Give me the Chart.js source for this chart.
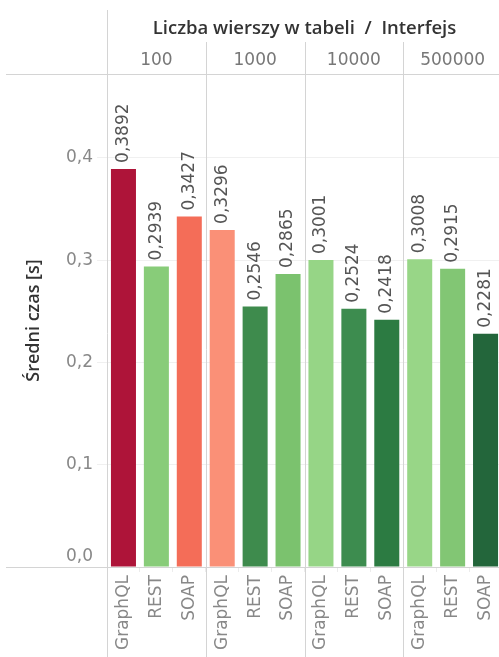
<!DOCTYPE html>
<html>
<head>
<meta charset="utf-8">
<script src="https://cdn.jsdelivr.net/npm/chart.js@4.4.1/dist/chart.umd.min.js"></script>
<style>
  html, body { margin: 0; padding: 0; background: #fff; overflow: hidden; }
  canvas { display: block; }
</style>
</head>
<body>
<canvas id="czasy" width="502" height="657"></canvas>
<script>
// liczba wierszy w tabeli (grupy) i interfejsy w każdej grupie
var rowCounts = ['100', '1000', '10000', '500000'];
var interfaces = ['GraphQL', 'REST', 'SOAP'];
// średni czas [s] - kolejno GraphQL, REST, SOAP dla każdej grupy
var avgTime = [0.3892, 0.2939, 0.3427, 0.3296, 0.2546, 0.2865, 0.3001, 0.2524, 0.2418, 0.3008, 0.2915, 0.2281];
var barColors = ['#ae1439', '#88cc79', '#f46d58', '#fa9077', '#3e8b4d', '#7bc26e',
                 '#96d586', '#3d8c4f', '#2c7b42', '#98d687', '#82c674', '#23663b'];
var yTicks = [0, 0.1, 0.2, 0.3, 0.4];

var labelset = [];
for (var g = 0; g < rowCounts.length; g++) {
  for (var i = 0; i < interfaces.length; i++) labelset.push(interfaces[i]);
}

function fmt(v, d) { return v.toFixed(d).replace('.', ','); }

var LINE = '#d4d4d4';

// naglowek z liczbą wierszy + linie siatki tabeli
var headerPlugin = {
  id: 'naglowek',
  afterDraw: function(chart) {
    var ctx = chart.ctx, area = chart.chartArea, x = chart.scales.x;
    var H = chart.height;
    var step = x.getPixelForValue(1) - x.getPixelForValue(0);
    ctx.save();
    ctx.strokeStyle = LINE;
    ctx.lineWidth = 1;
    ctx.beginPath();
    var top = Math.round(area.top) + 0.5, bottom = Math.round(area.bottom) + 0.5;
    ctx.moveTo(6, top); ctx.lineTo(chart.width, top);
    ctx.moveTo(6, bottom); ctx.lineTo(chart.width, bottom);
    var left = Math.round(area.left) + 0.5;
    ctx.moveTo(left, 10); ctx.lineTo(left, H);
    for (var g = 1; g < rowCounts.length; g++) {
      var bx = Math.round(x.getPixelForValue(g * 3) - step / 2) + 0.5;
      ctx.moveTo(bx, 42); ctx.lineTo(bx, H);
    }
    ctx.stroke();

    ctx.textAlign = 'center';
    ctx.textBaseline = 'alphabetic';
    ctx.fillStyle = '#333';
    ctx.font = '600 18.5px "Open Sans"';
    ctx.fillText('Liczba wierszy w tabeli  /  Interfejs', (area.left + area.right) / 2, 34);
    ctx.fillStyle = '#777';
    ctx.font = '17px "DejaVu Sans"';
    for (var k = 0; k < rowCounts.length; k++) {
      ctx.fillText(rowCounts[k], x.getPixelForValue(k * 3 + 1), 65);
    }
    ctx.restore();
  }
};

// wartości nad słupkami, obrócone pionowo
var valuePlugin = {
  id: 'wartosci',
  afterDatasetsDraw: function(chart) {
    var ctx = chart.ctx;
    var meta = chart.getDatasetMeta(0);
    ctx.save();
    ctx.font = '17px "DejaVu Sans"';
    ctx.fillStyle = '#555';
    ctx.textAlign = 'left';
    ctx.textBaseline = 'middle';
    meta.data.forEach(function(bar, i) {
      ctx.save();
      ctx.translate(bar.x, bar.y - 6);
      ctx.rotate(-Math.PI / 2);
      ctx.fillText(fmt(avgTime[i], 4), 0, 0);
      ctx.restore();
    });
    ctx.restore();
  }
};

var ctx = document.getElementById('czasy').getContext('2d');
new Chart(ctx, {
  type: 'bar',
  data: {
    labels: labelset,
    datasets: [{
      data: avgTime,
      backgroundColor: barColors,
      borderWidth: 0,
      barPercentage: 0.76,
      categoryPercentage: 1.0
    }]
  },
  options: {
    responsive: false,
    animation: false,
    layout: { padding: { top: 74, left: 0, right: 0, bottom: 0 } },
    plugins: {
      legend: { display: false },
      tooltip: { enabled: false }
    },
    scales: {
      x: {
        offset: true,
        grid: { display: true, drawOnChartArea: false, tickLength: 5, color: '#ececec', offset: true },
        border: { display: false },
        ticks: {
          autoSkip: false, minRotation: 90, maxRotation: 90, padding: 3,
          color: '#888', font: { family: 'DejaVu Sans', size: 17 }
        },
        afterFit: function(s) { s.height = 90; s.paddingLeft = 0; s.paddingRight = 0; }
      },
      y: {
        min: 0,
        max: 0.482,
        afterBuildTicks: function(s) {
          s.ticks = yTicks.map(function(v) { return { value: v }; });
        },
        grid: { color: '#f0f0f0', tickLength: 10 },
        border: { display: false },
        ticks: {
          padding: 4,
          color: '#888',
          font: { family: 'DejaVu Sans', size: 17 },
          callback: function(v) { return v === 0 ? ['0,0', ''] : fmt(v, 1); }
        },
        title: {
          display: true,
          text: 'Średni czas [s]',
          color: '#333',
          font: { family: 'Open Sans', size: 18, weight: '600' },
          padding: { top: 23, bottom: 0 }
        },
        afterFit: function(s) { s.width = 107; s.paddingTop = 0; s.paddingBottom = 0; }
      }
    }
  },
  plugins: [headerPlugin, valuePlugin]
});
</script>
</body>
</html>
